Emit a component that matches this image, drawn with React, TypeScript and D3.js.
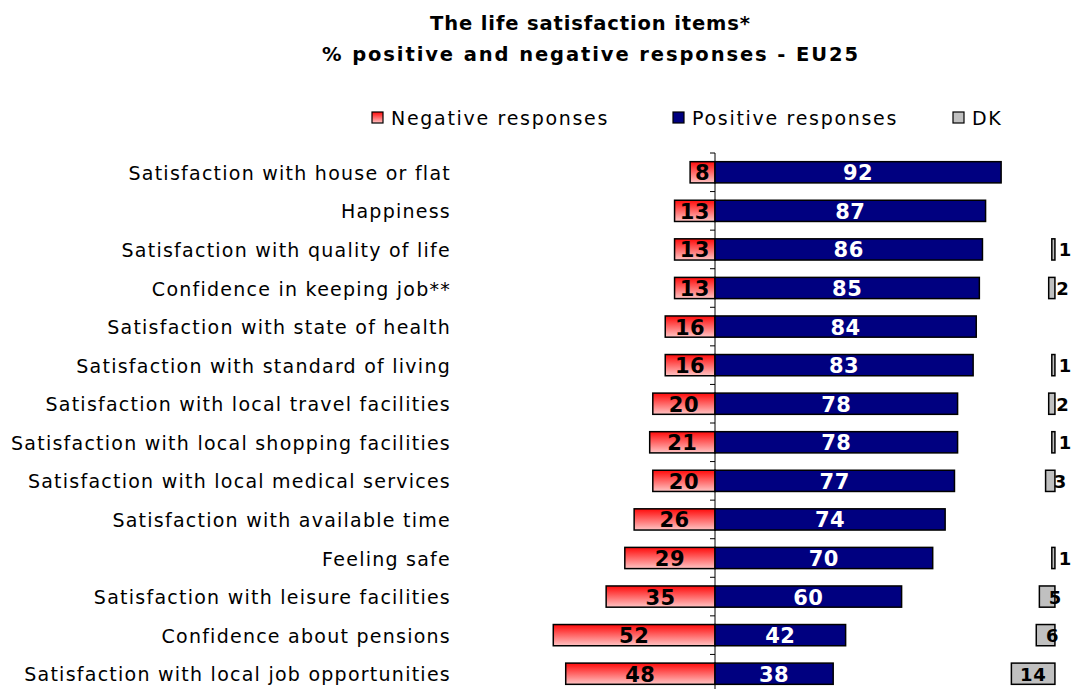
import React from "react";
import * as d3 from "d3";

const categories = [
  "Satisfaction with house or flat",
  "Happiness",
  "Satisfaction with quality of life",
  "Confidence in keeping job**",
  "Satisfaction with state of health",
  "Satisfaction with standard of living",
  "Satisfaction with local travel facilities",
  "Satisfaction with local shopping facilities",
  "Satisfaction with local medical services",
  "Satisfaction with available time",
  "Feeling safe",
  "Satisfaction with leisure facilities",
  "Confidence about pensions",
  "Satisfaction with local job opportunities",
];
const negative = [8, 13, 13, 13, 16, 16, 20, 21, 20, 26, 29, 35, 52, 48];
const positive = [92, 87, 86, 85, 84, 83, 78, 78, 77, 74, 70, 60, 42, 38];
const dk: (number | null)[] = [null, null, 1, 2, null, 1, 2, 1, 3, null, 1, 5, 6, 14];
const DK_END = 109.3;

const titleLines = ["The life satisfaction items*", "% positive and negative responses - EU25"];
const titleWidths = [320, 536];
const legendItems = [
  { label: "Negative responses", key: "neg" },
  { label: "Positive responses", key: "pos" },
  { label: "DK", key: "dk" },
];

export default function App() {
  const W = 1076, H = 689;
  const x = d3.scaleLinear().domain([0, 100]).range([715, 1026]);
  const y = d3.scaleBand<number>().domain(d3.range(categories.length)).range([153, 693]).paddingInner(0.45).paddingOuter(0.225);
  const step = y.step();
  const bh = y.bandwidth();
  const font = "'DejaVu Sans', Verdana, sans-serif";
  const legendX = [372, 673, 953];

  return (
    <svg width={W} height={H} style={{ position: "absolute", left: 0, top: 0 }} fontFamily={font}>
      <defs>
        <linearGradient id="negGrad" x1="0" y1="0" x2="0" y2="1">
          <stop offset="0%" stopColor="#ff0a0a" />
          <stop offset="100%" stopColor="#ffc4c4" />
        </linearGradient>
      </defs>
      <rect width={W} height={H} fill="#fff" />
      {titleLines.map((t, i) => (
        <text key={i} x={590} y={30 + i * 31} textAnchor="middle" fontWeight="bold" fontSize={19.5} fill="#000" textLength={titleWidths[i]} lengthAdjust="spacing">{t}</text>
      ))}
      {legendItems.map((it, i) => (
        <g key={it.key} transform={`translate(${legendX[i]},112)`}>
          <rect x={0} y={0} width={11} height={11} fill={it.key === "neg" ? "url(#negGrad)" : it.key === "pos" ? "#000080" : "#c0c0c0"} stroke="#000" strokeWidth={1.2} />
          <text x={19} y={13} fontSize={19} letterSpacing={1.7} fill="#000">{it.label}</text>
        </g>
      ))}
      {/* axis */}
      <line x1={x(0)} x2={x(0)} y1={153} y2={693} stroke="#000" strokeWidth={1} />
      {d3.range(categories.length + 1).map((i) => (
        <line key={i} x1={x(0) - 5} x2={x(0)} y1={153 + i * step} y2={153 + i * step} stroke="#000" strokeWidth={1} />
      ))}
      {categories.map((c, i) => {
        const y0 = y(i)!;
        const cy = y0 + bh / 2;
        const d = dk[i];
        return (
          <g key={c}>
            <text x={451} y={cy + 7.5} textAnchor="end" fontSize={19} letterSpacing={1.25} fill="#000">{c}</text>
            <rect x={x(-negative[i])} y={y0} width={x(0) - x(-negative[i])} height={bh} fill="url(#negGrad)" stroke="#000" strokeWidth={1.5} />
            <rect x={x(0)} y={y0} width={x(positive[i]) - x(0)} height={bh} fill="#000080" stroke="#000" strokeWidth={1.5} />
            <text x={(x(-negative[i]) + x(0)) / 2} y={cy + 8} textAnchor="middle" fontWeight="bold" fontSize={21} letterSpacing={0.5} fill="#000">{negative[i]}</text>
            <text x={(x(positive[i]) + x(0)) / 2} y={cy + 8} textAnchor="middle" fontWeight="bold" fontSize={21} letterSpacing={0.5} fill="#fff">{positive[i]}</text>
            {d != null && (
              <g>
                <rect x={x(DK_END - d)} y={y0} width={x(DK_END) - x(DK_END - d)} height={bh} fill="#c0c0c0" stroke="#000" strokeWidth={1.5} />
                <text x={(x(DK_END - d) + x(DK_END)) / 2 + Math.max(0, 13 - d)} y={cy + 7} textAnchor="middle" fontWeight="bold" fontSize={18} letterSpacing={0.5} fill="#000">{d}</text>
              </g>
            )}
          </g>
        );
      })}
    </svg>
  );
}
